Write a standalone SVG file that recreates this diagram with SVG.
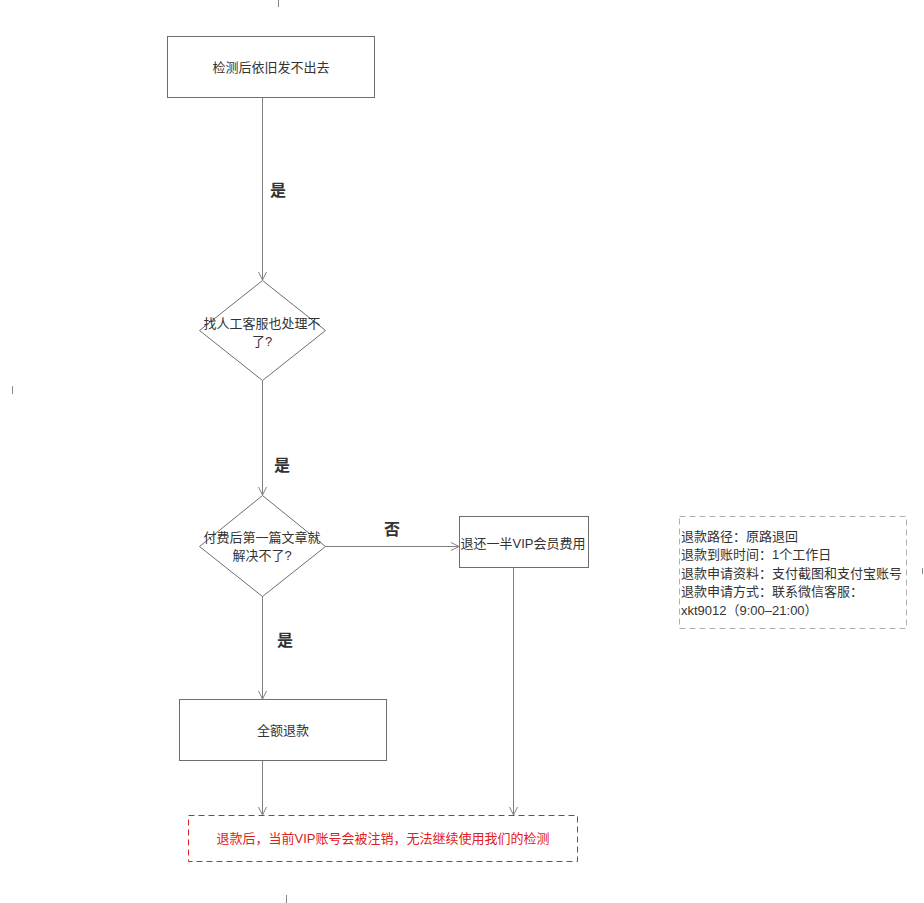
<svg xmlns="http://www.w3.org/2000/svg" width="924" height="903" viewBox="0 0 924 903">
<defs>
<marker id="arr" viewBox="0 0 10 10" refX="9" refY="5" markerWidth="10" markerHeight="10" markerUnits="userSpaceOnUse" orient="auto">
<path d="M1,1 L9,5 L1,9" fill="none" stroke="#808080" stroke-width="1"/>
</marker>
<style>
.box{fill:#fff;stroke:#6e6e6e;stroke-width:1}
.t{font-family:"Liberation Sans","Noto Sans CJK SC",sans-serif;font-size:13px;fill:#333;text-anchor:middle;dominant-baseline:central}
.lbl{font-family:"Liberation Sans","Noto Sans CJK SC",sans-serif;font-size:16px;font-weight:bold;fill:#333;text-anchor:middle;dominant-baseline:central}
.c{fill:none;stroke:#808080;stroke-width:1;marker-end:url(#arr)}
.tick{stroke:#888;stroke-width:1}
</style>
</defs>
<rect width="924" height="903" fill="#fff"/>
<g id="ticks">
<line class="tick" x1="278.5" y1="0" x2="278.5" y2="7"/>
<line class="tick" x1="12.5" y1="386" x2="12.5" y2="394"/>
<line class="tick" x1="922.5" y1="568" x2="922.5" y2="574"/>
<line class="tick" x1="286.5" y1="895" x2="286.5" y2="903"/>
</g>
<g id="connectors">
<line class="c" x1="262.5" y1="97" x2="262.5" y2="280"/>
<line class="c" x1="262.5" y1="381" x2="262.5" y2="495"/>
<line class="c" x1="325" y1="546.5" x2="459" y2="546.5"/>
<line class="c" x1="262.5" y1="596" x2="262.5" y2="699"/>
<line class="c" x1="262.5" y1="760" x2="262.5" y2="815"/>
<line class="c" x1="513.5" y1="567" x2="513.5" y2="815"/>
<text class="lbl" x="278" y="190">是</text>
<text class="lbl" x="282" y="465">是</text>
<text class="lbl" x="392" y="529">否</text>
<text class="lbl" x="285" y="640">是</text>
</g>
<g id="n1">
<rect class="box" x="167.5" y="36.5" width="207" height="61"/>
<text class="t" x="271" y="67">检测后依旧发不出去</text>
</g>
<g id="d1">
<polygon class="box" points="262.5,280.5 325.5,330.5 262.5,380.5 199.5,330.5"/>
<text class="t" x="262" y="323">找人工客服也处理不</text>
<text class="t" x="262" y="341">了?</text>
</g>
<g id="d2">
<polygon class="box" points="262.5,495.5 325.5,546.5 262.5,596.5 199.5,546.5"/>
<text class="t" x="262" y="537">付费后第一篇文章就</text>
<text class="t" x="262" y="555">解决不了?</text>
</g>
<g id="n2">
<rect class="box" x="459.5" y="516.5" width="129" height="51"/>
<text class="t" x="523" y="543">退还一半VIP会员费用</text>
</g>
<g id="n3">
<rect class="box" x="179.5" y="699.5" width="207" height="61"/>
<text class="t" x="283" y="730">全额退款</text>
</g>
<g id="n4">
<rect x="188.5" y="815.5" width="389" height="46" fill="#fff" stroke="#e02020" stroke-width="1" stroke-dasharray="6,4"/>
<text class="t" x="383" y="838" style="fill:#e02020">退款后，当前VIP账号会被注销，无法继续使用我们的检测</text>
</g>
<g id="note">
<rect x="679.5" y="516.5" width="227" height="112" fill="#fff" stroke="#b0b0b0" stroke-width="1" stroke-dasharray="6,4"/>
<g class="t" style="text-anchor:start">
<text class="t" x="681" y="536" style="text-anchor:start">退款路径：原路退回</text>
<text class="t" x="681" y="554.5" style="text-anchor:start">退款到账时间：1个工作日</text>
<text class="t" x="681" y="573" style="text-anchor:start">退款申请资料：支付截图和支付宝账号</text>
<text class="t" x="681" y="591.5" style="text-anchor:start">退款申请方式：联系微信客服：</text>
<text class="t" x="681" y="610" style="text-anchor:start">xkt9012（9:00–21:00）</text>
</g>
</g>
</svg>
